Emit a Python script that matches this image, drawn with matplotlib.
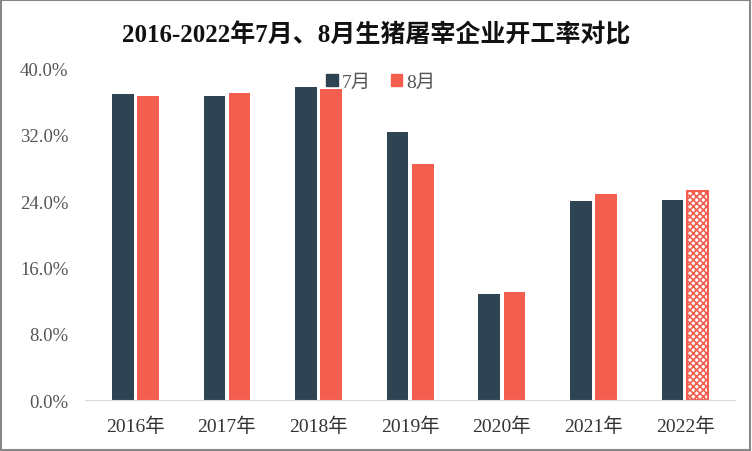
import numpy as np
import matplotlib.pyplot as plt
from matplotlib.patches import Rectangle

plt.rcParams['font.family'] = ['Liberation Serif', 'Noto Sans CJK SC', 'DejaVu Sans']
plt.rcParams['hatch.linewidth'] = 1.2

years = ["2016年", "2017年", "2018年", "2019年", "2020年", "2021年", "2022年"]
jul = [36.9, 36.7, 37.7, 32.3, 12.8, 24.0, 24.1]
aug = [36.7, 37.0, 37.5, 28.4, 13.0, 24.9, 25.2]

c_jul = "#2e4453"
c_aug = "#f45e4f"

fig = plt.figure(figsize=(7.52, 4.52), dpi=100)
ax = fig.add_axes([0.113, 0.112, 0.865, 0.735])

x = np.arange(len(years))
w = 0.235
gap = 0.02
b1 = ax.bar(x - w / 2 - gap, jul, w, color=c_jul, label="7月")
b2 = ax.bar(x + w / 2 + gap, aug, w, color=c_aug, label="8月")
# 2022 August is an estimate -> hatched
last = b2[-1]
last.set_facecolor("white")
last.set_edgecolor(c_aug)
last.set_hatch("xxxxx")
last.set_linewidth(1.5)

ax.set_ylim(0, 40)
ax.set_xlim(-0.55, len(years) - 0.45)
ax.set_yticks(np.arange(0, 41, 8))
ax.set_yticklabels([f"{v:.1f}%" for v in np.arange(0, 41, 8)], fontsize=13.5, color="#555555")
ax.set_xticks(x)
ax.set_xticklabels(years, fontsize=14, color="#333333")
ax.tick_params(axis="y", length=0, pad=12)
ax.tick_params(axis="x", length=0, pad=12)
for s in ["top", "right", "left"]:
    ax.spines[s].set_visible(False)
ax.spines["bottom"].set_color("#d9d9d9")

ax.legend(handles=[Rectangle((0, 0), 1, 1, color=c_jul), Rectangle((0, 0), 1, 1, color=c_aug)],
          labels=["7月", "8月"], loc="upper center", bbox_to_anchor=(0.455, 1.035), ncol=2,
          frameon=False, fontsize=14, handlelength=0.6, handleheight=0.6,
          handletextpad=0.2, columnspacing=1.0, labelcolor="#555555")

fig.text(0.5, 0.922, "2016-2022年7月、8月生猪屠宰企业开工率对比", ha="center",
         va="center", fontsize=18, fontweight="bold", color="#111111")

fig.add_artist(Rectangle((0.001, 0.002), 0.997, 0.995, transform=fig.transFigure,
                         fill=False, edgecolor="#888888", linewidth=1.5))

fig.savefig("out.png", dpi=100)
